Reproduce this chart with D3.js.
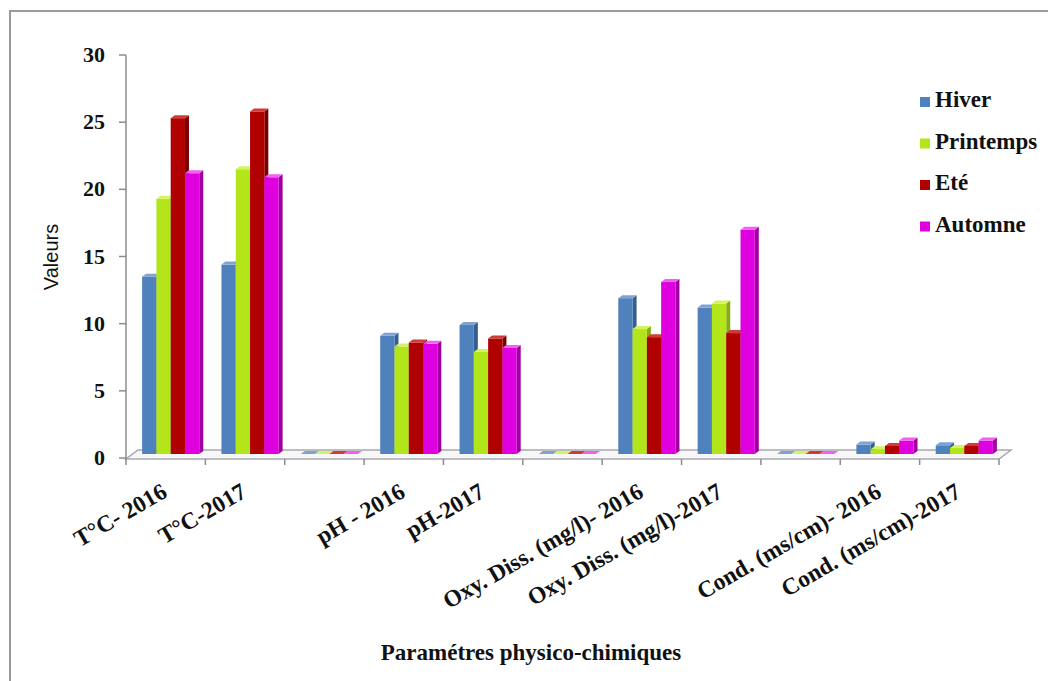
<!DOCTYPE html>
<html>
<head>
<meta charset="utf-8">
<script src="https://cdn.jsdelivr.net/npm/d3@7"></script>
<style>
  body { margin: 0; background: #fff; }
  svg { display: block; }
</style>
</head>
<body>
<div id="chart"></div>
<script>
// categories on the x axis (blank slots are the gaps between parameter groups)
const categories = ["T°C- 2016", "T°C-2017", "", "pH - 2016", "pH-2017", "",
  "Oxy. Diss. (mg/l)- 2016", "Oxy. Diss. (mg/l)-2017", "", "Cond. (ms/cm)- 2016", "Cond. (ms/cm)-2017"];

const seriesNames = ["Hiver", "Printemps", "Eté", "Automne"];

// values
const hiver     = [13.2, 14.1, 0, 8.8, 9.6, 0, 11.6, 10.9, 0, 0.7, 0.65];
const printemps = [19.0, 21.2, 0, 8.0, 7.6, 0, 9.3, 11.2, 0, 0.35, 0.45];
const ete       = [25.0, 25.5, 0, 8.3, 8.6, 0, 8.7, 9.0, 0, 0.6, 0.6];
const automne   = [20.9, 20.6, 0, 8.2, 7.9, 0, 12.8, 16.7, 0, 1.0, 1.0];

const yTicks = [0, 5, 10, 15, 20, 25, 30];

const seriesValues = [hiver, printemps, ete, automne];
const colors = [
  { front: "#4F81BD", side: "#365F91", top: "#7EA3D3" },
  { front: "#B3E51B", side: "#86AD10", top: "#D2F460" },
  { front: "#B00000", side: "#7A0000", top: "#D23A3A" },
  { front: "#DE00DE", side: "#A000A0", top: "#F260F2" }
];

const serif = "'Liberation Serif', 'Times New Roman', 'DejaVu Serif', serif";

const width = 1048, height = 681;
const svg = d3.select("#chart").append("svg")
  .attr("width", width)
  .attr("height", height);

// outer frame
svg.append("rect")
  .attr("x", 10).attr("y", 11)
  .attr("width", width).attr("height", height)
  .attr("fill", "none")
  .attr("stroke", "#9a9a9a")
  .attr("stroke-width", 2);

const x0 = d3.scaleBand()
  .domain(d3.range(categories.length))
  .range([126, 999])
  .paddingInner(0.28)
  .paddingOuter(0.14);

const x1 = d3.scaleBand()
  .domain(d3.range(seriesNames.length))
  .range([0, x0.bandwidth()]);

const y = d3.scaleLinear().domain([0, 30]).range([458, 55]);

// depth offsets for the 3D look
const floorDx = 12, floorDy = -9;
const barDx = 5, barDy = -4;
const sideDx = 4, sideDy = -3;

// floor
const xl = 126, xr = 999, yb = y(0) + 1;
svg.append("path")
  .attr("d", `M${xl},${yb} L${xr},${yb} L${xr + floorDx},${yb + floorDy} L${xl + floorDx},${yb + floorDy} Z`)
  .attr("fill", "#f7f7f7")
  .attr("stroke", "#a8a8b0")
  .attr("stroke-width", 1.5);

// bars
const g = svg.append("g");
categories.forEach((c, i) => {
  seriesValues.forEach((vals, s) => {
    const v = vals[i];
    const bx = x0(i) + x1(s) + barDx;
    const bw = x1.bandwidth();
    const by0 = y(0) + barDy;
    const by1 = y(v) + barDy;
    const col = colors[s];
    // side face
    g.append("path")
      .attr("d", `M${bx + bw},${by1} L${bx + bw + sideDx},${by1 + sideDy} L${bx + bw + sideDx},${by0 + sideDy} L${bx + bw},${by0} Z`)
      .attr("fill", col.side);
    // front face
    g.append("rect")
      .attr("x", bx).attr("y", by1)
      .attr("width", bw).attr("height", Math.max(0, by0 - by1))
      .attr("fill", col.front);
    // top face
    g.append("path")
      .attr("d", `M${bx},${by1} L${bx + sideDx},${by1 + sideDy} L${bx + bw + sideDx},${by1 + sideDy} L${bx + bw},${by1} Z`)
      .attr("fill", col.top);
  });
});

// y axis
const yAxis = svg.append("g");
yAxis.append("line")
  .attr("x1", 126).attr("x2", 126)
  .attr("y1", y(30)).attr("y2", y(0) + 1)
  .attr("stroke", "#8c8c8c").attr("stroke-width", 1.5);
yAxis.selectAll(".ytick")
  .data(yTicks)
  .enter().append("line")
  .attr("x1", 119).attr("x2", 126)
  .attr("y1", d => y(d)).attr("y2", d => y(d))
  .attr("stroke", "#8c8c8c").attr("stroke-width", 1.5);
yAxis.selectAll(".ylabel")
  .data(yTicks)
  .enter().append("text")
  .attr("x", 105)
  .attr("y", d => y(d) + 7)
  .attr("text-anchor", "end")
  .style("font-family", serif)
  .style("font-weight", "bold")
  .style("font-size", "22px")
  .attr("fill", "#111")
  .text(d => d);

// x axis ticks between categories
const xTicks = d3.range(categories.length + 1).map(i => 126 + i * x0.step());
svg.selectAll(".xtick")
  .data(xTicks)
  .enter().append("line")
  .attr("x1", d => d).attr("x2", d => d)
  .attr("y1", yb).attr("y2", yb + 6)
  .attr("stroke", "#8c8c8c").attr("stroke-width", 1.5);

// category labels
svg.selectAll(".xlabel")
  .data(categories.map((c, i) => ({ c, i })).filter(d => d.c !== ""))
  .enter().append("text")
  .attr("text-anchor", "end")
  .attr("transform", d => `translate(${x0(d.i) + x0.bandwidth() / 2 + 3},496) rotate(-30)`)
  .style("font-family", serif)
  .style("font-weight", "bold")
  .style("font-size", "23.5px")
  .attr("fill", "#111")
  .text(d => d.c);

// axis titles
svg.append("text")
  .attr("x", 531).attr("y", 660)
  .attr("text-anchor", "middle")
  .style("font-family", serif)
  .style("font-weight", "bold")
  .style("font-size", "23px")
  .attr("fill", "#111")
  .text("Paramétres physico-chimiques");

svg.append("text")
  .attr("transform", "translate(58,257) rotate(-90)")
  .attr("text-anchor", "middle")
  .style("font-family", "'Liberation Sans', Arial, sans-serif")
  .style("font-size", "20px")
  .attr("fill", "#111")
  .text("Valeurs");

// legend
const legend = svg.append("g");
seriesNames.forEach((name, i) => {
  const ly = 107 + i * 41.5;
  legend.append("rect")
    .attr("x", 920).attr("y", ly - 10)
    .attr("width", 10).attr("height", 10)
    .attr("fill", colors[i].front);
  legend.append("text")
    .attr("x", 935).attr("y", ly)
    .style("font-family", serif)
    .style("font-weight", "bold")
    .style("font-size", "23px")
    .attr("fill", "#111")
    .text(name);
});
</script>
</body>
</html>
